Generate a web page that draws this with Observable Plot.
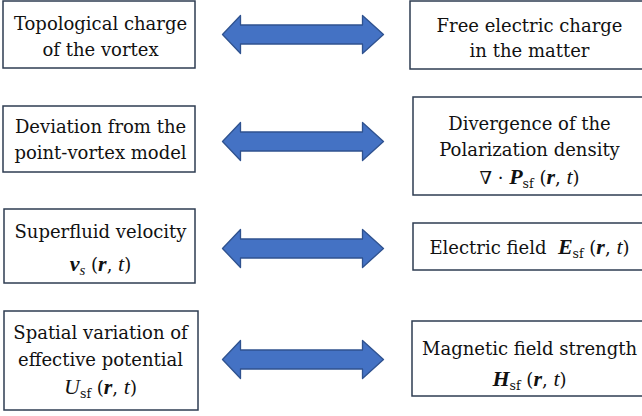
<!DOCTYPE html>
<html><head><meta charset="utf-8">
<script src="https://cdn.jsdelivr.net/npm/d3@7"></script>
<script src="https://cdn.jsdelivr.net/npm/@observablehq/plot@0.6"></script>
<style>body{margin:0;background:#fff}</style>
</head><body><div id="chart"></div>
<script>
// ---- content ----
const rows = [0, 1, 2, 3];
const leftLabels = [
  ["Topological charge", "of the vortex"],
  ["Deviation from the", "point-vortex model"],
  ["Superfluid velocity"],
  ["Spatial variation of", "effective potential"]
];
const rightLabels = [
  ["Free electric charge", "in the matter"],
  ["Divergence of the", "Polarization density"],
  [],
  ["Magnetic field strength"]
];
// math lines as [text, style] tokens: r roman, i italic, bi bold italic, sub roman subscript, subi italic subscript
const rt = [[" (", "r"], ["r", "bi"], [", ", "r"], ["t", "i"], [")", "r"]];
const leftMath = [
  null,
  null,
  [["v", "bi"], ["s", "subi"], ...rt],
  [["U", "i"], ["sf", "sub"], ...rt]
];
const rightMath = [
  null,
  [["\u2207 \u00b7 ", "r"], ["P", "bi"], ["sf", "sub"], ...rt],
  [["Electric field  ", "r"], ["E", "bi"], ["sf", "sub"], ...rt],
  [["H", "bi"], ["sf", "sub"], ...rt]
];

// ---- layout (page units) ----
const W = 642, H = 416, FS = 22;
const leftBox = [[3, 195, 1, 68], [3, 195, 106, 172], [4, 195, 209, 283], [4, 198, 311, 410]];
const rightBox = [[410, 660, 1, 69], [413, 660, 97, 195], [413, 660, 223, 270], [412, 660, 321, 396]];
const leftBase = [[29, 55], [132, 158], [237, 270], [338, 365, 393]];
const rightBase = [[31, 56], [129, 155, 183], [253], [354, 385]];
const leftCx = 100, rightCx = 529;
const arrowCy = [34, 141, 248, 359];
const arrowX = {tipL: 222, baseL: 240, baseR: 362, tipR: 383, head: 19, shaft: 9.5};

// ---- build tables ----
const boxes = rows.flatMap(r => [
  {x1: leftBox[r][0], x2: leftBox[r][1], y1: leftBox[r][2], y2: leftBox[r][3]},
  {x1: rightBox[r][0], x2: rightBox[r][1], y1: rightBox[r][2], y2: rightBox[r][3]}
]);

const textLines = [];
rows.forEach(r => {
  leftLabels[r].forEach((t, i) => textLines.push({x: leftCx, base: leftBase[r][i], tokens: [[t, "r"]]}));
  if (leftMath[r]) textLines.push({x: leftCx, base: leftBase[r][leftLabels[r].length], tokens: leftMath[r]});
  rightLabels[r].forEach((t, i) => textLines.push({x: rightCx, base: rightBase[r][i], tokens: [[t, "r"]]}));
  if (rightMath[r]) textLines.push({x: rightCx, base: rightBase[r][rightLabels[r].length], tokens: rightMath[r]});
});
textLines.forEach(d => d.text = d.tokens.map(t => t[0]).join(""));

const a = arrowX;
const arrowPts = rows.flatMap(r => {
  const c = arrowCy[r];
  return [
    [a.tipL, c], [a.baseL, c - a.head], [a.baseL, c - a.shaft], [a.baseR, c - a.shaft],
    [a.baseR, c - a.head], [a.tipR, c], [a.baseR, c + a.head], [a.baseR, c + a.shaft],
    [a.baseL, c + a.shaft], [a.baseL, c + a.head]
  ].map(([x, y]) => ({row: r, x, y}));
});

const serifItalic = "Liberation Serif";
const serifUpright = "DejaVu Serif";
const yMid = d => d.base - 0.32 * FS;

const chart = Plot.plot({
  width: W, height: H,
  margin: 0,
  x: {domain: [0, W], range: [0, W], axis: null},
  y: {domain: [0, H], range: [0, H], axis: null},
  marks: [
    Plot.rect(boxes, {x1: "x1", x2: "x2", y1: "y1", y2: "y2", fill: "#fff", stroke: "#2E3D52", strokeWidth: 1.5}),
    Plot.line(arrowPts, {x: "x", y: "y", z: "row", curve: "linear-closed", fill: "#4472C4", stroke: "#2F528F", strokeWidth: 1.3}),
    Plot.text(textLines, {x: "x", y: yMid, text: "text", fontSize: FS, fontFamily: serifUpright, fill: "#111", textAnchor: "middle", lineAnchor: "middle"})
  ]
});

// rich-text every label line
const NS = "http://www.w3.org/2000/svg";
chart.querySelectorAll("text").forEach(el => {
  const m = textLines.find(d => d.text === el.textContent);
  if (!m) return;
  el.textContent = "";
  let shifted = 0;
  m.tokens.forEach(([t, s]) => {
    const sp = document.createElementNS(NS, "tspan");
    sp.textContent = t;
    const isSub = s === "sub" || s === "subi";
    const isItal = s === "i" || s === "subi" || s === "bi";
    if (isSub && !shifted) { sp.setAttribute("dy", 4); shifted = 4; }
    else if (!isSub && shifted) { sp.setAttribute("dy", -shifted); shifted = 0; }
    if (isItal) {
      sp.setAttribute("font-family", serifItalic);
      sp.setAttribute("font-style", "italic");
      sp.setAttribute("font-size", isSub ? 15 : FS);
    } else {
      sp.setAttribute("font-family", serifUpright);
      sp.setAttribute("font-size", isSub ? 12.5 : 18);
    }
    if (s === "bi") sp.setAttribute("font-weight", "bold");
    el.appendChild(sp);
  });
});

document.getElementById("chart").appendChild(chart);
</script>
</body></html>
